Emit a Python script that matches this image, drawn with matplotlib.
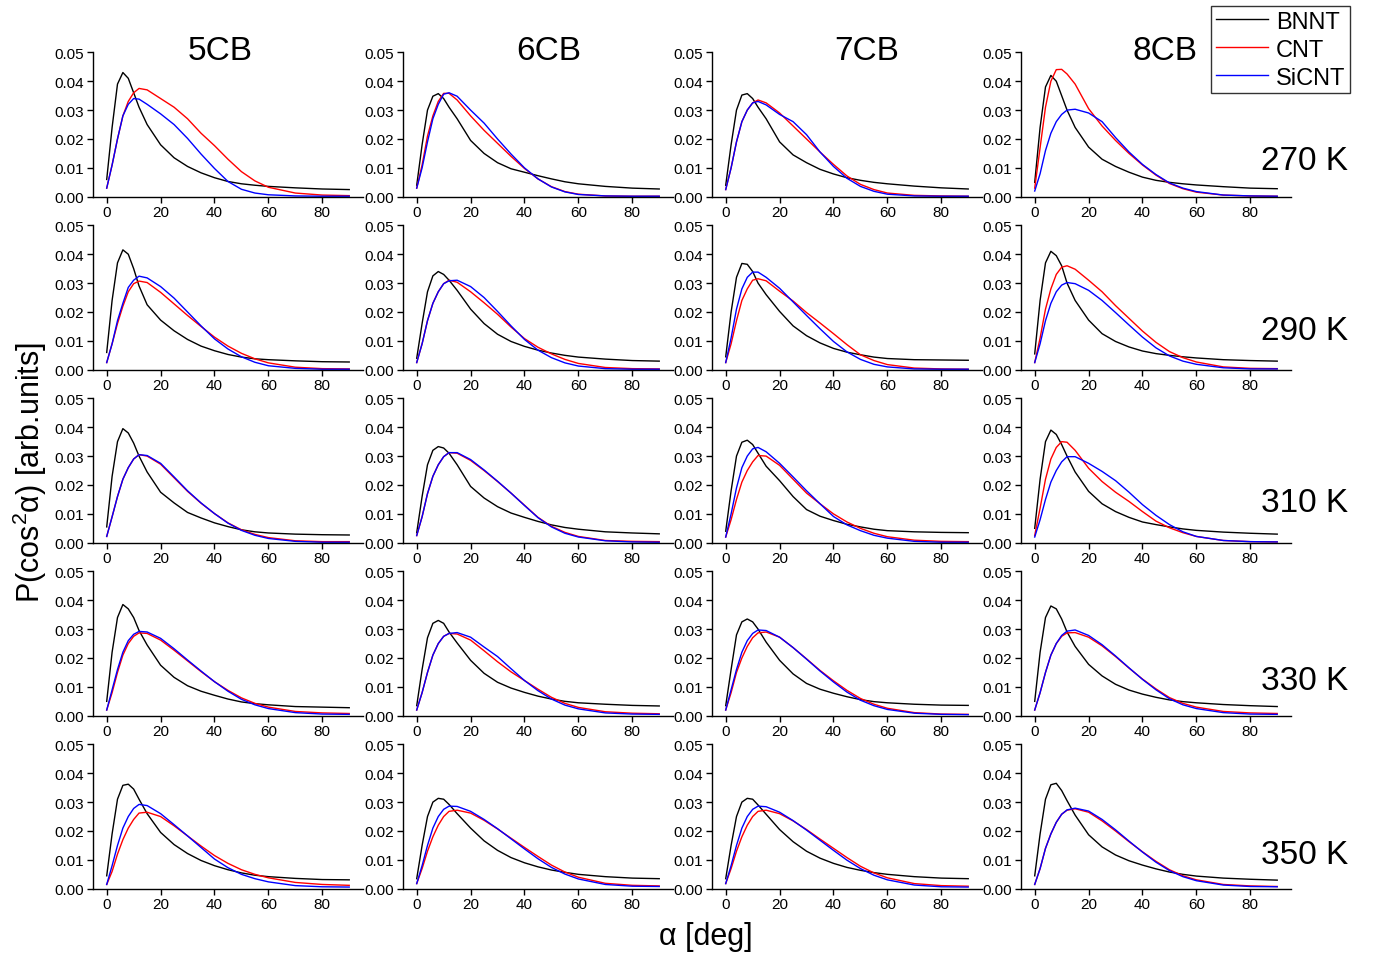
import numpy as np
import matplotlib.pyplot as plt

plt.rcParams['font.family'] = ['Liberation Sans', 'DejaVu Sans']
plt.rcParams['mathtext.fontset'] = 'custom'
plt.rcParams['mathtext.rm'] = 'Liberation Sans'

alpha = [0, 2, 4, 6, 8, 10, 12, 15, 20, 25, 30, 35, 40, 45, 50, 55, 60, 70, 80, 90]
crystals = ['5CB', '6CB', '7CB', '8CB']
temps = ['270 K', '290 K', '310 K', '330 K', '350 K']
tubes = ['BNNT', 'CNT', 'SiCNT']
colors = ['black', '#ff0000', '#0000ff']

# rows: 270, 290, 310, 330, 350 K
bnnt_5cb = [
    [0.006, 0.024, 0.039, 0.043, 0.041, 0.036, 0.031, 0.025, 0.018, 0.0135, 0.0105, 0.0083, 0.0066, 0.0053, 0.0045, 0.004, 0.0036, 0.0031, 0.0027, 0.0025],
    [0.006, 0.024, 0.037, 0.0415, 0.040, 0.035, 0.029, 0.0225, 0.0172, 0.0135, 0.0105, 0.0082, 0.0066, 0.0053, 0.0044, 0.0038, 0.0035, 0.0031, 0.0028, 0.0027],
    [0.0055, 0.023, 0.035, 0.0395, 0.038, 0.0345, 0.030, 0.0245, 0.0175, 0.0138, 0.0105, 0.0086, 0.0069, 0.0056, 0.0045, 0.0038, 0.0034, 0.003, 0.0028, 0.0027],
    [0.005, 0.022, 0.034, 0.0385, 0.037, 0.034, 0.0295, 0.0245, 0.0175, 0.0133, 0.0104, 0.0085, 0.0071, 0.0058, 0.0048, 0.0042, 0.0038, 0.0032, 0.003, 0.0028],
    [0.0045, 0.019, 0.031, 0.0358, 0.0362, 0.0345, 0.031, 0.026, 0.0195, 0.0153, 0.0122, 0.0098, 0.008, 0.0066, 0.0055, 0.0047, 0.0042, 0.0036, 0.0032, 0.0031],
]
cnt_5cb = [
    [0.003, 0.011, 0.020, 0.028, 0.033, 0.036, 0.0375, 0.037, 0.034, 0.031, 0.027, 0.022, 0.0177, 0.013, 0.0087, 0.0055, 0.0033, 0.0013, 0.0006, 0.0004],
    [0.0025, 0.009, 0.016, 0.022, 0.027, 0.0298, 0.0307, 0.0302, 0.0268, 0.0228, 0.0188, 0.015, 0.0113, 0.0082, 0.0057, 0.0038, 0.0024, 0.0009, 0.0004, 0.0003],
    [0.0022, 0.009, 0.016, 0.022, 0.026, 0.029, 0.0305, 0.030, 0.0272, 0.0225, 0.0178, 0.0137, 0.0101, 0.0069, 0.0045, 0.0029, 0.0018, 0.0007, 0.0004, 0.0004],
    [0.002, 0.008, 0.015, 0.021, 0.025, 0.0275, 0.0287, 0.0285, 0.0262, 0.0227, 0.019, 0.0153, 0.0118, 0.0088, 0.0062, 0.0043, 0.003, 0.0015, 0.001, 0.0008],
    [0.0015, 0.006, 0.012, 0.017, 0.021, 0.024, 0.0262, 0.0265, 0.025, 0.0218, 0.0183, 0.0148, 0.0115, 0.0088, 0.0066, 0.005, 0.0038, 0.0022, 0.0015, 0.0012],
]
sicnt_5cb = [
    [0.003, 0.011, 0.020, 0.028, 0.032, 0.034, 0.0338, 0.032, 0.0287, 0.025, 0.0202, 0.0148, 0.0098, 0.0053, 0.0026, 0.0013, 0.0007, 0.0003, 0.0002, 0.0002],
    [0.0025, 0.009, 0.017, 0.023, 0.0285, 0.031, 0.0324, 0.0318, 0.0288, 0.0248, 0.020, 0.0152, 0.0107, 0.0072, 0.0045, 0.0026, 0.0014, 0.0005, 0.0002, 0.0002],
    [0.0022, 0.009, 0.016, 0.022, 0.026, 0.029, 0.0305, 0.0302, 0.0275, 0.0228, 0.018, 0.0138, 0.0101, 0.0068, 0.0043, 0.0026, 0.0015, 0.0005, 0.0002, 0.0002],
    [0.002, 0.009, 0.016, 0.022, 0.026, 0.0282, 0.0292, 0.029, 0.0268, 0.0232, 0.0193, 0.0155, 0.0118, 0.0085, 0.0057, 0.0038, 0.0025, 0.0011, 0.0006, 0.0005],
    [0.0015, 0.008, 0.015, 0.021, 0.025, 0.0278, 0.0292, 0.0288, 0.026, 0.0222, 0.0183, 0.0143, 0.0103, 0.0073, 0.005, 0.0035, 0.0024, 0.0011, 0.0007, 0.0006],
]

bnnt_6cb = [
    [0.004, 0.018, 0.030, 0.0348, 0.0357, 0.034, 0.031, 0.027, 0.0195, 0.015, 0.0118, 0.0097, 0.0085, 0.0073, 0.0062, 0.0052, 0.0045, 0.0036, 0.003, 0.0027],
    [0.004, 0.016, 0.027, 0.0325, 0.034, 0.033, 0.031, 0.0275, 0.021, 0.016, 0.0123, 0.0098, 0.0081, 0.0068, 0.0058, 0.005, 0.0044, 0.0037, 0.0032, 0.003],
    [0.0035, 0.016, 0.027, 0.032, 0.0333, 0.0328, 0.031, 0.027, 0.0195, 0.0155, 0.0125, 0.0103, 0.0088, 0.0074, 0.0062, 0.0053, 0.0047, 0.0038, 0.0034, 0.0031],
    [0.0035, 0.016, 0.027, 0.032, 0.033, 0.032, 0.029, 0.0252, 0.0192, 0.0147, 0.0116, 0.0096, 0.0081, 0.0068, 0.0058, 0.005, 0.0045, 0.004, 0.0036, 0.0034],
    [0.0035, 0.015, 0.025, 0.030, 0.0313, 0.031, 0.0292, 0.026, 0.021, 0.0166, 0.0133, 0.0108, 0.009, 0.0076, 0.0065, 0.0057, 0.005, 0.0042, 0.0037, 0.0035],
]
cnt_6cb = [
    [0.003, 0.011, 0.021, 0.028, 0.033, 0.0358, 0.0358, 0.0335, 0.028, 0.023, 0.0185, 0.014, 0.0098, 0.0062, 0.0035, 0.0018, 0.0009, 0.0003, 0.0002, 0.0002],
    [0.0025, 0.009, 0.017, 0.023, 0.027, 0.0298, 0.031, 0.0303, 0.027, 0.0232, 0.0192, 0.0148, 0.0108, 0.0078, 0.0055, 0.0036, 0.0022, 0.0008, 0.0004, 0.0003],
    [0.0025, 0.009, 0.017, 0.023, 0.027, 0.0298, 0.0312, 0.031, 0.0285, 0.025, 0.0212, 0.0172, 0.013, 0.0088, 0.0057, 0.0036, 0.0022, 0.0008, 0.0005, 0.0004],
    [0.002, 0.008, 0.015, 0.021, 0.025, 0.0275, 0.0285, 0.0283, 0.0262, 0.0225, 0.0187, 0.0152, 0.0122, 0.0092, 0.0064, 0.0043, 0.0029, 0.0014, 0.0009, 0.0007],
    [0.0018, 0.007, 0.013, 0.018, 0.022, 0.025, 0.0268, 0.0272, 0.0262, 0.0237, 0.0207, 0.0175, 0.0143, 0.0112, 0.0082, 0.0058, 0.004, 0.0019, 0.0012, 0.001],
]
sicnt_6cb = [
    [0.003, 0.010, 0.019, 0.027, 0.032, 0.0355, 0.036, 0.0348, 0.030, 0.0255, 0.020, 0.0148, 0.0100, 0.0062, 0.0034, 0.0017, 0.0008, 0.0003, 0.0002, 0.0002],
    [0.0025, 0.009, 0.017, 0.023, 0.027, 0.0298, 0.0308, 0.031, 0.0288, 0.025, 0.0202, 0.0152, 0.0105, 0.0068, 0.0042, 0.0024, 0.0013, 0.0004, 0.0002, 0.0002],
    [0.0025, 0.009, 0.017, 0.023, 0.027, 0.0298, 0.0312, 0.0312, 0.0288, 0.0252, 0.0213, 0.0172, 0.0129, 0.0087, 0.0055, 0.0033, 0.002, 0.0007, 0.0003, 0.0002],
    [0.002, 0.008, 0.015, 0.021, 0.025, 0.0275, 0.0285, 0.0288, 0.0272, 0.0238, 0.0205, 0.0163, 0.0122, 0.0087, 0.0058, 0.0037, 0.0024, 0.001, 0.0006, 0.0005],
    [0.0018, 0.008, 0.015, 0.021, 0.025, 0.0275, 0.0286, 0.0285, 0.0268, 0.024, 0.0208, 0.0173, 0.0138, 0.0104, 0.0074, 0.0051, 0.0034, 0.0015, 0.0009, 0.0008],
]

bnnt_7cb = [
    [0.004, 0.018, 0.030, 0.0352, 0.0357, 0.034, 0.031, 0.027, 0.019, 0.0145, 0.0118, 0.0095, 0.0079, 0.0066, 0.0057, 0.005, 0.0045, 0.0037, 0.0031, 0.0027],
    [0.0045, 0.020, 0.032, 0.0368, 0.0365, 0.034, 0.030, 0.026, 0.0202, 0.0152, 0.0118, 0.0093, 0.0074, 0.0061, 0.0052, 0.0044, 0.0039, 0.0035, 0.0034, 0.0033],
    [0.004, 0.018, 0.030, 0.0348, 0.0355, 0.034, 0.031, 0.0265, 0.0215, 0.016, 0.0115, 0.0092, 0.0077, 0.0064, 0.0055, 0.0047, 0.0042, 0.0038, 0.0036, 0.0035],
    [0.0035, 0.016, 0.028, 0.0325, 0.0335, 0.0325, 0.030, 0.0255, 0.0192, 0.0145, 0.0112, 0.0092, 0.0078, 0.0066, 0.0056, 0.0049, 0.0045, 0.004, 0.0037, 0.0036],
    [0.0035, 0.015, 0.025, 0.030, 0.0313, 0.031, 0.029, 0.0258, 0.0205, 0.0163, 0.013, 0.0106, 0.0088, 0.0074, 0.0064, 0.0056, 0.005, 0.0042, 0.0037, 0.0035],
]
cnt_7cb = [
    [0.0025, 0.010, 0.019, 0.026, 0.030, 0.0325, 0.0335, 0.0325, 0.029, 0.0245, 0.020, 0.0155, 0.0112, 0.0072, 0.0043, 0.0025, 0.0013, 0.0005, 0.0003, 0.0002],
    [0.0025, 0.009, 0.017, 0.024, 0.028, 0.031, 0.0315, 0.0308, 0.0272, 0.0238, 0.0198, 0.0162, 0.0125, 0.0087, 0.0052, 0.0032, 0.0018, 0.0006, 0.0003, 0.0002],
    [0.002, 0.008, 0.015, 0.021, 0.025, 0.028, 0.0302, 0.030, 0.0268, 0.022, 0.0172, 0.0135, 0.01, 0.0072, 0.005, 0.0033, 0.0021, 0.0009, 0.0005, 0.0004],
    [0.002, 0.008, 0.015, 0.020, 0.024, 0.027, 0.0287, 0.029, 0.0272, 0.0236, 0.0197, 0.0157, 0.0121, 0.0088, 0.006, 0.004, 0.0026, 0.0011, 0.0006, 0.0005],
    [0.0018, 0.007, 0.013, 0.018, 0.022, 0.025, 0.0268, 0.0272, 0.026, 0.0235, 0.0205, 0.0172, 0.014, 0.0108, 0.0078, 0.0055, 0.0038, 0.0018, 0.0011, 0.0009],
]
sicnt_7cb = [
    [0.0025, 0.010, 0.019, 0.026, 0.030, 0.0325, 0.033, 0.0318, 0.0285, 0.026, 0.0215, 0.0155, 0.0105, 0.0064, 0.0036, 0.0019, 0.0009, 0.0003, 0.0002, 0.0002],
    [0.0025, 0.011, 0.021, 0.028, 0.032, 0.0338, 0.0338, 0.032, 0.0282, 0.0235, 0.0188, 0.0142, 0.0098, 0.0062, 0.0036, 0.0019, 0.001, 0.0003, 0.0002, 0.0002],
    [0.002, 0.010, 0.019, 0.026, 0.030, 0.0325, 0.033, 0.0315, 0.0275, 0.0228, 0.018, 0.0135, 0.0091, 0.0062, 0.0042, 0.0026, 0.0016, 0.0005, 0.0002, 0.0002],
    [0.002, 0.009, 0.016, 0.022, 0.026, 0.0285, 0.0297, 0.0295, 0.0272, 0.0236, 0.0196, 0.0155, 0.0117, 0.0082, 0.0054, 0.0035, 0.0022, 0.0009, 0.0005, 0.0004],
    [0.0018, 0.008, 0.015, 0.021, 0.025, 0.0275, 0.0286, 0.0284, 0.0265, 0.0236, 0.0203, 0.0168, 0.0133, 0.0099, 0.007, 0.0047, 0.0031, 0.0013, 0.0007, 0.0006],
]

bnnt_8cb = [
    [0.005, 0.024, 0.038, 0.042, 0.040, 0.035, 0.030, 0.024, 0.0172, 0.013, 0.0105, 0.0085, 0.0068, 0.0057, 0.005, 0.0045, 0.0041, 0.0035, 0.003, 0.0028],
    [0.0055, 0.024, 0.037, 0.041, 0.0395, 0.036, 0.030, 0.024, 0.0172, 0.0125, 0.0098, 0.0079, 0.0065, 0.0056, 0.005, 0.0045, 0.0041, 0.0035, 0.0032, 0.003],
    [0.005, 0.022, 0.035, 0.039, 0.0375, 0.034, 0.030, 0.0245, 0.0178, 0.0135, 0.0108, 0.0088, 0.0072, 0.0063, 0.0055, 0.0048, 0.0043, 0.0037, 0.0033, 0.003],
    [0.005, 0.022, 0.034, 0.038, 0.037, 0.0335, 0.029, 0.024, 0.0178, 0.0138, 0.0109, 0.0089, 0.0075, 0.0064, 0.0055, 0.0049, 0.0045, 0.0039, 0.0035, 0.0032],
    [0.0045, 0.019, 0.031, 0.036, 0.0365, 0.034, 0.0305, 0.0255, 0.0187, 0.0145, 0.0117, 0.0097, 0.0082, 0.0069, 0.0058, 0.005, 0.0044, 0.0037, 0.0033, 0.003],
]
cnt_8cb = [
    [0.003, 0.017, 0.031, 0.040, 0.044, 0.0441, 0.0425, 0.039, 0.0305, 0.0245, 0.0195, 0.015, 0.011, 0.0075, 0.0046, 0.0028, 0.0016, 0.0006, 0.0003, 0.0002],
    [0.0025, 0.011, 0.021, 0.028, 0.033, 0.0355, 0.036, 0.0348, 0.031, 0.027, 0.0222, 0.0178, 0.0134, 0.0095, 0.0063, 0.0042, 0.0027, 0.001, 0.0005, 0.0004],
    [0.0025, 0.012, 0.022, 0.029, 0.033, 0.035, 0.0348, 0.032, 0.0258, 0.0212, 0.0175, 0.0143, 0.0108, 0.0075, 0.0052, 0.0035, 0.0022, 0.0008, 0.0004, 0.0003],
    [0.002, 0.008, 0.015, 0.021, 0.025, 0.0275, 0.0287, 0.0288, 0.0272, 0.0242, 0.0205, 0.0165, 0.0127, 0.0093, 0.0063, 0.0043, 0.003, 0.0015, 0.001, 0.0008],
    [0.0015, 0.007, 0.014, 0.019, 0.023, 0.0258, 0.0272, 0.0277, 0.0265, 0.0235, 0.02, 0.0163, 0.0128, 0.0095, 0.0066, 0.0045, 0.0031, 0.0015, 0.001, 0.0008],
]
sicnt_8cb = [
    [0.002, 0.008, 0.016, 0.022, 0.026, 0.0285, 0.030, 0.0303, 0.029, 0.026, 0.0205, 0.0155, 0.0112, 0.0077, 0.0048, 0.003, 0.0018, 0.0006, 0.0003, 0.0002],
    [0.0025, 0.009, 0.017, 0.023, 0.027, 0.0293, 0.0302, 0.0298, 0.0275, 0.024, 0.0198, 0.0155, 0.0113, 0.0076, 0.0048, 0.003, 0.0019, 0.0007, 0.0003, 0.0003],
    [0.002, 0.008, 0.015, 0.021, 0.025, 0.028, 0.0298, 0.0298, 0.0275, 0.0247, 0.0215, 0.0175, 0.0132, 0.0095, 0.0063, 0.0038, 0.0022, 0.0008, 0.0004, 0.0003],
    [0.002, 0.008, 0.015, 0.021, 0.025, 0.0278, 0.0293, 0.0297, 0.0278, 0.0246, 0.0207, 0.0166, 0.0126, 0.009, 0.0059, 0.0038, 0.0025, 0.0011, 0.0006, 0.0005],
    [0.0015, 0.007, 0.014, 0.019, 0.023, 0.0258, 0.0273, 0.0279, 0.0269, 0.024, 0.0204, 0.0165, 0.0127, 0.0092, 0.0063, 0.0042, 0.0028, 0.0013, 0.0008, 0.0007],
]

series = {
    '5CB': [bnnt_5cb, cnt_5cb, sicnt_5cb],
    '6CB': [bnnt_6cb, cnt_6cb, sicnt_6cb],
    '7CB': [bnnt_7cb, cnt_7cb, sicnt_7cb],
    '8CB': [bnnt_8cb, cnt_8cb, sicnt_8cb],
}

W, H = 1373, 954
fig = plt.figure(figsize=(W / 100, H / 100), dpi=100)

# panel geometry in pixels
col_left = [92.7, 402.7, 711.7, 1020.7]
row_top = [53.3, 226.3, 399.3, 572.3, 745.3]
ax_w, ax_h = 270, 144.5
title_x = [220, 549, 867, 1165]
temp_y = [162, 332, 504, 682, 856]

lines = []
for r, temp in enumerate(temps):
    for c, lc in enumerate(crystals):
        ax = fig.add_axes([col_left[c] / W, (H - row_top[r] - ax_h) / H, ax_w / W, ax_h / H])
        for k, tube in enumerate(tubes):
            ln, = ax.plot(alpha, series[lc][k][r], color=colors[k], lw=1.0,
                          solid_joinstyle='round', label=tube)
            if r == 0 and c == 0:
                lines.append(ln)
        ax.set_xlim(-5.2, 95)
        ax.set_ylim(0, 0.05)
        ax.set_xticks([0, 20, 40, 60, 80])
        ax.set_yticks(np.arange(0, 0.051, 0.01))
        ax.yaxis.set_major_formatter(plt.FormatStrFormatter('%.2f'))
        ax.spines['top'].set_visible(False)
        ax.spines['right'].set_visible(False)
        for s in ['left', 'bottom']:
            ax.spines[s].set_linewidth(1.0)
        ax.tick_params(direction='out', length=4, width=1, labelsize=11, pad=2)

    fig.text(1348 / W, 1 - temp_y[r] / H, temp, fontsize=24, ha='right', va='center')

for c, lc in enumerate(crystals):
    fig.text(title_x[c] / W, 1 - 51 / H, lc, fontsize=24, ha='center', va='center')

fig.text(30 / W, 1 - 472 / H, 'P(cos$^2$α) [arb.units]', fontsize=22,
         rotation=90, ha='center', va='center')
fig.text(706 / W, 1 - 937 / H, 'α [deg]', fontsize=22, ha='center', va='center')

leg = fig.legend(handles=lines, loc='upper right', bbox_to_anchor=(1350 / W, 1 - 7 / H),
                 fontsize=17, frameon=True, fancybox=False, edgecolor='black',
                 borderpad=0.2, handlelength=2.2, handletextpad=0.34,
                 labelspacing=0.25, borderaxespad=0)
leg.get_frame().set_linewidth(1.0)

fig.savefig('out.png', dpi=100)
